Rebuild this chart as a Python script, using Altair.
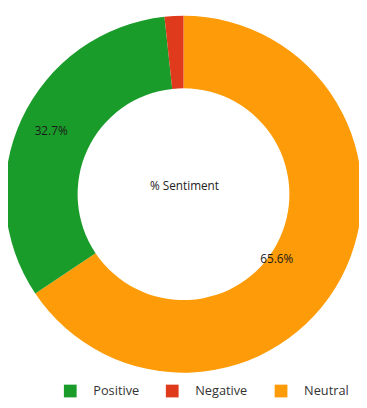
import altair as alt
import pandas as pd

# slices, clockwise from 12 o'clock
sentiments = ["Neutral", "Positive", "Negative"]
values = [65.6, 32.7, 1.7]
label_outer = ["", "32.7%", ""]   # drawn near the middle of the ring
label_inner = ["65.6%", "", ""]   # drawn near the inner edge of the ring

legend_order = ["Positive", "Negative", "Neutral"]
legend_colors = ["#1a9c2a", "#de3a1b", "#fd9c08"]

df = pd.DataFrame({
    "Sentiment": sentiments,
    "Value": values,
    "ord": list(range(len(sentiments))),
    "lo": label_outer,
    "li": label_inner,
})

CX, CY = 179, 186

base = alt.Chart(df).encode(
    theta=alt.Theta("Value:Q", stack=True),
    order=alt.Order("ord:Q", sort="ascending"),
)

arcs = base.mark_arc(radius=182, radius2=108, stroke=None).encode(
    x=alt.value(CX),
    y=alt.value(CY),
    color=alt.Color(
        "Sentiment:N",
        scale=alt.Scale(domain=legend_order, range=legend_colors),
        sort=legend_order,
        legend=alt.Legend(
            title=None,
            orient="none",
            direction="horizontal",
            legendX=57,
            legendY=380,
            symbolType="square",
            symbolSize=169,
            symbolStrokeWidth=0,
            symbolOpacity=1,
            labelFont="Open Sans",
            labelFontSize=13,
            labelColor="#333333",
            labelOffset=17,
            columnPadding=27,
            padding=0,
        ),
    ),
)

labels_outer = base.mark_text(
    radius=149, font="Open Sans", fontSize=12, color="#1a1a1a", dy=-1
).encode(x=alt.value(CX), y=alt.value(CY), text="lo:N")

labels_inner = base.mark_text(
    radius=118, font="Open Sans", fontSize=12, color="#1a1a1a", dx=-9, dy=11
).encode(x=alt.value(CX), y=alt.value(CY), text="li:N")

center_df = pd.DataFrame({"t": ["% Sentiment"]})
center = alt.Chart(center_df).mark_text(
    font="Open Sans", fontSize=12, color="#222222"
).encode(x=alt.value(CX + 1), y=alt.value(CY - 8), text="t:N")

chart = alt.layer(arcs, labels_outer, labels_inner, center).properties(
    width=358,
    height=392,
    autosize=alt.AutoSizeParams(type="none"),
    padding=0,
).configure_view(stroke=None)

chart.save("out.html", embed_options={"renderer": "svg", "actions": False})
